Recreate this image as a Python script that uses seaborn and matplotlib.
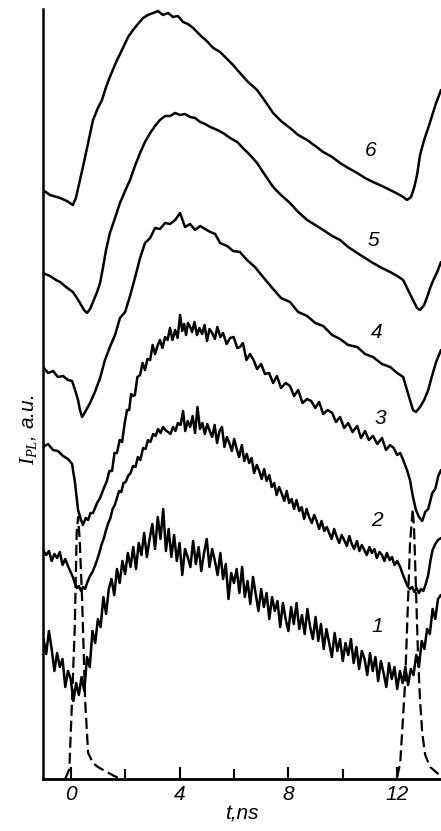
import matplotlib
matplotlib.use("Agg")
import pandas as pd
import matplotlib.pyplot as plt
import seaborn as sns

# Cinética da fotoluminescência, curvas 1..6 deslocadas verticalmente (t em ns, I em u.a.)
curve6 = [(-1.02, 589), (-0.76, 584), (-0.39, 581), (-0.14, 578), (0.08, 574), (0.19, 581), (0.34, 599),
          (0.45, 612), (0.64, 636), (0.82, 659), (1.00, 671), (1.15, 679), (1.30, 692), (1.44, 702),
          (1.67, 717), (1.92, 731), (2.11, 742), (2.29, 749), (2.47, 755), (2.66, 761), (2.84, 764),
          (3.03, 766), (3.21, 768), (3.39, 764), (3.58, 766), (3.76, 762), (3.94, 763), (4.13, 757),
          (4.31, 755), (4.50, 751), (4.75, 744), (5.00, 738), (5.24, 731), (5.49, 727), (5.75, 720),
          (5.97, 714), (6.22, 706), (6.52, 697), (6.85, 689), (7.14, 678), (7.44, 666), (7.73, 658),
          (8.06, 651), (8.36, 644), (8.69, 639), (8.99, 633), (9.28, 627), (9.61, 622), (9.90, 616),
          (10.20, 611), (10.53, 606), (10.82, 601), (11.11, 597), (11.44, 593), (11.74, 589), (12.03, 585),
          (12.22, 582), (12.36, 579), (12.51, 582), (12.62, 591), (12.73, 604), (12.84, 624), (12.99, 639),
          (13.14, 651), (13.29, 664), (13.43, 676), (13.61, 689)]

curve5 = [(-1.02, 506), (-0.76, 503), (-0.54, 499), (-0.39, 497), (-0.17, 492), (0.08, 487), (0.23, 481),
          (0.34, 476), (0.49, 469), (0.60, 466), (0.71, 470), (0.82, 477), (0.97, 487), (1.08, 496),
          (1.19, 512), (1.30, 529), (1.44, 546), (1.63, 561), (1.81, 576), (2.00, 588), (2.18, 599),
          (2.36, 613), (2.55, 626), (2.73, 637), (2.92, 646), (3.10, 653), (3.28, 659), (3.47, 663),
          (3.65, 663), (3.84, 666), (4.02, 664), (4.20, 665), (4.39, 662), (4.57, 661), (4.76, 657),
          (4.94, 655), (5.13, 652), (5.39, 649), (5.60, 646), (5.86, 641), (6.12, 637), (6.33, 631),
          (6.59, 624), (6.85, 616), (7.14, 604), (7.44, 592), (7.73, 584), (8.06, 576), (8.36, 567),
          (8.69, 559), (8.99, 554), (9.28, 549), (9.61, 543), (9.90, 539), (10.20, 532), (10.53, 526),
          (10.82, 521), (11.11, 516), (11.44, 511), (11.74, 507), (12.00, 503), (12.22, 499), (12.40, 489),
          (12.58, 479), (12.73, 471), (12.84, 469), (12.99, 474), (13.10, 482), (13.21, 491), (13.33, 499),
          (13.47, 507), (13.61, 517)]

curve4 = [(-1.02, 412), (-0.83, 406), (-0.65, 408), (-0.47, 402), (-0.28, 403), (-0.10, 399), (0.05, 398),
          (0.16, 389), (0.27, 379), (0.34, 369), (0.42, 362), (0.53, 367), (0.71, 376), (0.89, 387),
          (1.08, 401), (1.26, 419), (1.44, 432), (1.63, 444), (1.81, 461), (2.00, 467), (2.18, 483),
          (2.36, 501), (2.55, 521), (2.73, 536), (2.92, 541), (3.10, 551), (3.28, 550), (3.47, 556),
          (3.65, 555), (3.84, 559), (4.02, 566), (4.20, 552), (4.39, 555), (4.57, 549), (4.76, 553),
          (4.94, 550), (5.13, 547), (5.31, 545), (5.49, 536), (5.75, 533), (5.97, 528), (6.22, 527),
          (6.48, 519), (6.77, 512), (7.07, 502), (7.44, 490), (7.73, 481), (8.06, 477), (8.36, 467),
          (8.69, 463), (8.99, 456), (9.28, 453), (9.61, 444), (9.90, 440), (10.20, 434), (10.53, 432),
          (10.82, 425), (11.11, 422), (11.44, 415), (11.74, 412), (12.00, 406), (12.22, 402), (12.36, 389),
          (12.47, 379), (12.58, 369), (12.69, 367), (12.84, 372), (12.99, 379), (13.14, 389), (13.29, 404),
          (13.43, 417), (13.61, 429)]

curve3 = [(-1.02, 332), (-0.83, 335), (-0.65, 329), (-0.47, 328), (-0.28, 323), (-0.10, 320), (0.05, 315),
          (0.16, 296), (0.27, 269), (0.38, 259), (0.45, 254), (0.55, 261), (0.64, 259), (0.73, 266),
          (0.82, 266), (0.97, 276), (1.08, 281), (1.22, 291), (1.33, 298), (1.42, 308), (1.52, 308),
          (1.61, 326), (1.70, 326), (1.80, 339), (1.89, 337), (1.98, 355), (2.07, 369), (2.15, 369),
          (2.22, 385), (2.30, 383), (2.36, 384), (2.45, 402), (2.55, 404), (2.64, 416), (2.73, 409),
          (2.82, 420), (2.92, 419), (3.01, 434), (3.10, 425), (3.19, 433), (3.28, 439), (3.37, 431),
          (3.47, 442), (3.56, 439), (3.65, 451), (3.74, 439), (3.84, 449), (3.93, 441), (4.02, 464),
          (4.10, 448), (4.17, 455), (4.24, 444), (4.31, 456), (4.39, 452), (4.46, 447), (4.55, 457),
          (4.64, 444), (4.73, 451), (4.83, 445), (4.92, 454), (5.01, 438), (5.10, 450), (5.20, 446),
          (5.30, 440), (5.39, 452), (5.50, 442), (5.60, 446), (5.73, 435), (5.86, 441), (5.99, 442),
          (6.12, 431), (6.22, 432), (6.33, 436), (6.46, 419), (6.59, 425), (6.72, 419), (6.85, 410),
          (7.00, 415), (7.14, 405), (7.29, 406), (7.44, 396), (7.58, 403), (7.73, 391), (7.90, 396),
          (8.06, 393), (8.21, 383), (8.36, 389), (8.52, 376), (8.69, 380), (8.84, 378), (8.99, 371),
          (9.13, 377), (9.28, 365), (9.45, 369), (9.61, 366), (9.75, 357), (9.90, 362), (10.05, 351),
          (10.20, 356), (10.36, 347), (10.53, 353), (10.67, 341), (10.82, 348), (10.96, 339), (11.11, 343),
          (11.27, 335), (11.44, 341), (11.59, 329), (11.74, 334), (11.87, 331), (12.00, 324), (12.11, 326),
          (12.22, 319), (12.36, 309), (12.47, 299), (12.58, 282), (12.69, 269), (12.80, 262), (12.92, 258),
          (13.03, 267), (13.14, 270), (13.29, 286), (13.40, 290), (13.51, 303), (13.61, 309)]

curve2 = [(-1.02, 229), (-0.90, 224), (-0.80, 228), (-0.70, 218), (-0.60, 225), (-0.50, 221), (-0.40, 227),
          (-0.30, 214), (-0.20, 220), (-0.10, 213), (0.00, 207), (0.08, 202), (0.16, 195), (0.23, 191),
          (0.30, 193), (0.38, 188), (0.45, 192), (0.53, 190), (0.60, 196), (0.71, 203), (0.80, 207),
          (0.89, 213), (0.97, 219), (1.05, 226), (1.13, 234), (1.22, 241), (1.30, 249), (1.38, 256),
          (1.46, 261), (1.54, 270), (1.62, 274), (1.70, 281), (1.78, 288), (1.86, 287), (1.94, 296),
          (2.02, 297), (2.11, 303), (2.20, 306), (2.29, 313), (2.38, 312), (2.47, 322), (2.56, 319),
          (2.66, 331), (2.75, 330), (2.84, 339), (2.93, 337), (3.03, 345), (3.12, 343), (3.21, 350),
          (3.30, 346), (3.39, 352), (3.48, 349), (3.58, 347), (3.67, 345), (3.76, 352), (3.85, 348),
          (3.94, 356), (4.04, 354), (4.13, 368), (4.21, 348), (4.30, 358), (4.39, 352), (4.48, 363),
          (4.57, 346), (4.66, 372), (4.75, 350), (4.84, 356), (4.93, 345), (5.02, 355), (5.11, 348),
          (5.20, 342), (5.29, 354), (5.38, 336), (5.47, 348), (5.56, 352), (5.65, 332), (5.74, 342),
          (5.83, 336), (5.92, 328), (6.01, 340), (6.10, 330), (6.19, 322), (6.29, 334), (6.38, 318),
          (6.47, 325), (6.56, 316), (6.65, 321), (6.74, 306), (6.84, 314), (6.93, 308), (7.02, 300),
          (7.11, 310), (7.20, 298), (7.30, 304), (7.39, 292), (7.48, 296), (7.57, 284), (7.66, 292),
          (7.75, 286), (7.85, 278), (7.94, 288), (8.03, 276), (8.12, 280), (8.21, 270), (8.30, 279),
          (8.40, 268), (8.49, 272), (8.58, 260), (8.67, 270), (8.76, 262), (8.86, 256), (8.95, 264),
          (9.04, 258), (9.13, 250), (9.22, 258), (9.32, 248), (9.41, 252), (9.50, 246), (9.59, 240),
          (9.68, 250), (9.78, 242), (9.87, 236), (9.96, 244), (10.05, 239), (10.15, 233), (10.24, 243),
          (10.33, 235), (10.42, 230), (10.52, 238), (10.61, 228), (10.70, 234), (10.79, 229), (10.88, 224),
          (10.98, 232), (11.07, 226), (11.16, 230), (11.25, 221), (11.35, 227), (11.44, 224), (11.53, 218),
          (11.62, 226), (11.72, 219), (11.81, 222), (11.90, 214), (12.00, 218), (12.11, 212), (12.20, 205),
          (12.29, 199), (12.38, 193), (12.47, 190), (12.55, 192), (12.63, 187), (12.71, 191), (12.80, 186),
          (12.88, 190), (12.96, 188), (13.05, 195), (13.14, 204), (13.22, 218), (13.30, 229), (13.40, 235),
          (13.50, 239), (13.61, 241)]

curve1 = [(-1.00, 140), (-0.90, 125), (-0.80, 148), (-0.70, 130), (-0.60, 108), (-0.50, 126), (-0.40, 112),
          (-0.30, 120), (-0.20, 92), (-0.10, 108), (0.00, 100), (0.10, 78), (0.20, 96), (0.30, 84),
          (0.40, 102), (0.50, 88), (0.60, 122), (0.70, 112), (0.80, 148), (0.90, 136), (1.00, 160),
          (1.10, 152), (1.20, 182), (1.30, 165), (1.40, 190), (1.50, 200), (1.60, 184), (1.70, 210),
          (1.80, 196), (1.90, 218), (2.00, 205), (2.10, 226), (2.20, 212), (2.30, 232), (2.40, 210),
          (2.50, 236), (2.60, 224), (2.70, 246), (2.80, 222), (2.90, 240), (3.00, 255), (3.10, 230),
          (3.20, 262), (3.30, 240), (3.40, 270), (3.50, 228), (3.60, 250), (3.70, 222), (3.80, 244),
          (3.90, 218), (4.00, 236), (4.10, 204), (4.20, 230), (4.30, 222), (4.40, 212), (4.50, 238),
          (4.60, 215), (4.70, 232), (4.80, 208), (4.90, 226), (5.00, 240), (5.10, 212), (5.20, 230),
          (5.30, 218), (5.40, 204), (5.50, 226), (5.60, 200), (5.70, 215), (5.80, 180), (5.90, 206),
          (6.00, 196), (6.10, 210), (6.20, 186), (6.30, 212), (6.40, 182), (6.50, 198), (6.60, 175),
          (6.70, 202), (6.80, 185), (6.90, 168), (7.00, 190), (7.10, 172), (7.20, 186), (7.30, 160),
          (7.40, 182), (7.50, 168), (7.60, 178), (7.70, 152), (7.80, 176), (7.90, 160), (8.00, 148),
          (8.10, 172), (8.20, 155), (8.30, 176), (8.40, 150), (8.50, 164), (8.60, 145), (8.70, 170),
          (8.80, 152), (8.90, 140), (9.00, 162), (9.10, 138), (9.20, 155), (9.30, 130), (9.40, 150),
          (9.50, 136), (9.60, 122), (9.70, 146), (9.80, 128), (9.90, 140), (10.00, 118), (10.10, 136),
          (10.20, 124), (10.30, 140), (10.40, 116), (10.50, 132), (10.60, 110), (10.70, 128), (10.80, 120),
          (10.90, 104), (11.00, 126), (11.10, 108), (11.20, 122), (11.30, 98), (11.40, 118), (11.50, 106),
          (11.60, 92), (11.70, 116), (11.80, 100), (11.90, 112), (12.00, 90), (12.10, 108), (12.20, 96),
          (12.30, 112), (12.40, 94), (12.50, 110), (12.60, 104), (12.70, 124), (12.80, 112), (12.90, 138),
          (13.00, 130), (13.10, 150), (13.20, 145), (13.30, 170), (13.40, 160), (13.50, 180), (13.61, 184)]

# pulso do laser (tracejado)
pulso_a = [(-0.20, 0), (-0.05, 10), (0.05, 79), (0.15, 152), (0.22, 246), (0.27, 262), (0.33, 240),
           (0.42, 179), (0.53, 79), (0.64, 26), (0.82, 16), (1.00, 12), (1.33, 7), (1.60, 3), (1.85, 0)]
pulso_b = [(12.00, 2), (12.11, 16), (12.18, 46), (12.29, 96), (12.40, 179), (12.47, 235), (12.57, 270),
           (12.62, 250), (12.69, 190), (12.77, 120), (12.84, 79), (12.92, 46), (13.03, 24), (13.21, 12),
           (13.47, 6), (13.61, 3)]

curvas = {"1": curve1, "2": curve2, "3": curve3, "4": curve4, "5": curve5, "6": curve6}
rotulos = {"6": (11.01, 629), "5": (11.12, 539), "4": (11.26, 446),
           "3": (11.37, 361), "2": (11.26, 259), "1": (11.26, 152)}

xticks = [0, 4, 8, 12]
xticklabels = ["0", "4", "8", "12"]
xticks_menores = [2, 6, 10]

sns.set_style("ticks")
plt.rcParams["font.family"] = ["Liberation Sans", "DejaVu Sans"]
plt.rcParams["mathtext.fontset"] = "custom"
plt.rcParams["mathtext.it"] = "Liberation Serif:italic"
plt.rcParams["mathtext.rm"] = "Liberation Serif"
for chave in ["text.color", "axes.labelcolor", "xtick.color", "ytick.color", "axes.edgecolor"]:
    plt.rcParams[chave] = "black"

fig = plt.figure(figsize=(4.41, 8.31), dpi=100)
ax = fig.add_axes([43 / 441, 52 / 831, 398 / 441, 770 / 831])

for nome, pts in curvas.items():
    df = pd.DataFrame(pts, columns=["t", "I"])
    sns.lineplot(data=df, x="t", y="I", ax=ax, color="black", lw=1.8,
                 sort=False, estimator=None)

for pts in [pulso_a, pulso_b]:
    df = pd.DataFrame(pts, columns=["t", "I"])
    sns.lineplot(data=df, x="t", y="I", ax=ax, color="black", lw=1.6,
                 linestyle=(0, (5, 2.2)), sort=False, estimator=None)

for nome, (tx, ty) in rotulos.items():
    ax.text(tx, ty, nome, fontsize=15, fontstyle="italic", ha="center", va="center")

ax.set_xlim(-1.018, 13.61)
ax.set_ylim(0, 770)
ax.set_xticks(xticks)
ax.set_xticklabels(xticklabels)
ax.set_xticks(xticks_menores, minor=True)
ax.set_yticks([])
for lbl in ax.get_xticklabels():
    lbl.set_fontstyle("italic")
ax.tick_params(axis="x", which="major", direction="in", length=9, width=1.5, labelsize=15, pad=4)
ax.tick_params(axis="x", which="minor", direction="in", length=7, width=1.5)

sns.despine(ax=ax)
ax.spines["left"].set_linewidth(1.8)
ax.spines["bottom"].set_linewidth(2.0)

ax.set_xlabel("t,ns", fontsize=15, fontstyle="italic", labelpad=1)
ax.set_ylabel(r"$I_{PL}$, a.u.", fontsize=15, fontstyle="italic")
ax.yaxis.set_label_coords(-0.01, 0.453)

fig.savefig("out.png", dpi=100)
